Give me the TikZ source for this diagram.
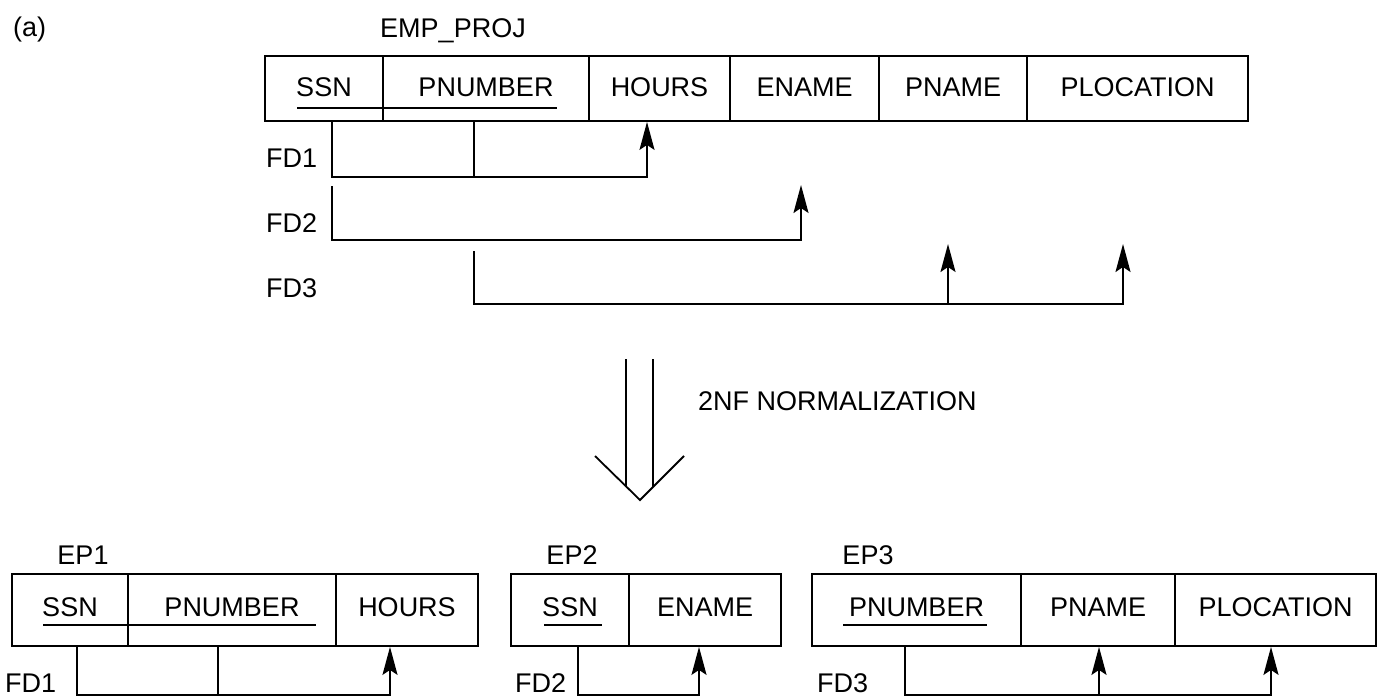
\documentclass[tikz,border=0pt]{standalone}
\usepackage{fontspec}
\setmainfont{Liberation Sans}
\usetikzlibrary{arrows.meta}

\begin{document}
\begin{tikzpicture}[x=1pt,y=-1pt,
    cell/.style={draw,line width=1.8pt,inner sep=0pt,minimum height=65pt,text height=19.3pt,text depth=3pt,font=\fontsize{27}{31}\selectfont},
    lowcell/.style={cell,minimum height=72pt,text depth=6pt},
    lbl/.style={inner sep=0pt,font=\fontsize{27}{31}\selectfont},
    fd/.style={line width=1.8pt},
    fdarrow/.style={fd,-{Stealth[length=28pt,width=15pt,inset=5pt]}},
    key/.style={line width=1.8pt}]
\useasboundingbox (0,0) rectangle (1378,696);

\node[lbl,anchor=base west] (tag) at (13,36) {(a)};
\node[lbl,anchor=base] (empproj) at (453,37) {EMP\_PROJ};

\node[cell,minimum width=118pt] (e-ssn) at (324,88.5) {SSN};
\node[cell,minimum width=206pt] (e-pnum) at (486,88.5) {PNUMBER};
\node[cell,minimum width=141pt] (e-hours) at (659.5,88.5) {HOURS};
\node[cell,minimum width=149pt] (e-ename) at (804.5,88.5) {ENAME};
\node[cell,minimum width=148pt] (e-pname) at (953,88.5) {PNAME};
\node[cell,minimum width=221pt] (e-ploc) at (1137.5,88.5) {PLOCATION};
\draw[key] (297,108) -- (557,108);

\node[lbl,anchor=base west] (fd1) at (266,167) {FD1};
\node[lbl,anchor=base west] (fd2) at (266,232) {FD2};
\node[lbl,anchor=base west] (fd3) at (266,297) {FD3};

\draw[fdarrow] ([xshift=8pt]e-ssn.south) -- ++(0,55) -| ([xshift=-12.5pt]e-hours.south);
\draw[fd] ([xshift=-12pt]e-pnum.south) -- ++(0,55);

\coordinate (fd2-a) at (332,186);
\coordinate (fd2-b) at (801,185);
\draw[fdarrow] (fd2-a) -- ++(0,54) -| (fd2-b);

\coordinate (fd3-a) at (474,251);
\coordinate (fd3-j) at (948,304);
\coordinate (fd3-b) at (948,244);
\coordinate (fd3-c) at (1123,244);
\draw[fdarrow] (fd3-a) -- ++(0,53) -| (fd3-c);
\draw[fdarrow] (fd3-j) -- (fd3-b);

\coordinate (norm-l) at (626,359);
\coordinate (norm-r) at (653,359);
\coordinate (norm-tip) at (640,500);
\draw[key] (norm-l) -- ++(0,127);
\draw[key] (norm-r) -- ++(0,128);
\draw[key] (norm-tip) ++(-45,-44) -- (norm-tip) -- ++(44,-44);
\node[lbl,anchor=base west] (norm) at (698,410) {2NF NORMALIZATION};

\node[lbl,anchor=base] (ep1) at (83,564) {EP1};
\node[lowcell,minimum width=116pt] (a-ssn) at (70,610) {SSN};
\node[lowcell,minimum width=208pt] (a-pnum) at (232,610) {PNUMBER};
\node[lowcell,minimum width=142pt] (a-hours) at (407,610) {HOURS};
\draw[key] (43,625) -- (316,625);
\node[lbl,anchor=base west] (ep1-fd1) at (5,692) {FD1};
\draw[fdarrow] ([xshift=7pt]a-ssn.south) -- ++(0,48) -| ([xshift=-17pt]a-hours.south);
\draw[fd] ([xshift=-14pt]a-pnum.south) -- ++(0,48);

\node[lbl,anchor=base] (ep2) at (572,564) {EP2};
\node[lowcell,minimum width=118pt] (b-ssn) at (570,610) {SSN};
\node[lowcell,minimum width=152pt] (b-ename) at (705,610) {ENAME};
\draw[key] (544,625) -- (602,625);
\node[lbl,anchor=base west] (ep2-fd2) at (515,692) {FD2};
\draw[fdarrow] ([xshift=8pt]b-ssn.south) -- ++(0,48) -| ([xshift=-6pt]b-ename.south);

\node[lbl,anchor=base] (ep3) at (868,564) {EP3};
\node[lowcell,minimum width=209pt] (c-pnum) at (916.5,610) {PNUMBER};
\node[lowcell,minimum width=154pt] (c-pname) at (1098,610) {PNAME};
\node[lowcell,minimum width=201pt] (c-ploc) at (1275.5,610) {PLOCATION};
\draw[key] (843,625) -- (987,625);
\node[lbl,anchor=base west] (ep3-fd3) at (817,692) {FD3};
\draw[fdarrow] ([xshift=-11.5pt]c-pnum.south) -- ++(0,48) -| ([xshift=-4.5pt]c-ploc.south);
\draw[fdarrow] ([xshift=1pt,yshift=-48pt]c-pname.south) -- ([xshift=1pt]c-pname.south);
\end{tikzpicture}
\end{document}
